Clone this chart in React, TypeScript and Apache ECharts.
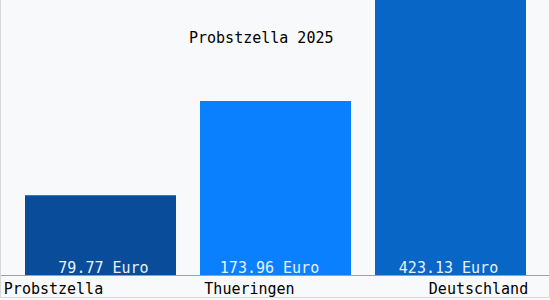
import React, { useEffect, useRef } from "react";
import * as echarts from "echarts";

const categories = ["Probstzella", "Thueringen", "Deutschland"];
const values = [79.77, 173.96, 423.13];
const barColors = ["#084c9a", "#0a80ff", "#0866c6"];
const labelShifts = [3, -6, -2];
const titleText = "Probstzella 2025";
const unit = "Euro";

const FONT = "'DejaVu Sans Mono', 'Liberation Mono', monospace";

export default function App() {
  const ref = useRef<HTMLDivElement>(null);
  useEffect(() => {
    if (!ref.current) return;
    const chart = echarts.init(ref.current, undefined, { renderer: "svg" });
    chart.setOption({
      animation: false,
      backgroundColor: "#f8f9fa",
      title: {
        text: titleText,
        left: 189,
        top: 30,
        padding: 0,
        textStyle: { fontFamily: FONT, fontSize: 15, fontWeight: "normal", color: "#000" },
      },
      grid: { left: 13, right: 12, top: 0, bottom: 25 },
      xAxis: {
        type: "category",
        data: categories,
        axisLine: { show: false },
        axisTick: { show: false },
        axisLabel: {
          margin: 6,
          interval: 0,
          formatter: (v: string, i: number) => `{s${i}|${v}}`,
          rich: {
            s0: { fontFamily: FONT, fontSize: 15, color: "#000", padding: [0, 94, 0, 0] },
            s1: { fontFamily: FONT, fontSize: 15, color: "#000", padding: [0, 52, 0, 0] },
            s2: { fontFamily: FONT, fontSize: 15, color: "#000", padding: [0, 0, 0, 56] },
          },
        },
      },
      yAxis: { type: "value", min: 0, max: 275, show: false },
      series: [
        {
          type: "bar",
          barWidth: 151,
          data: values.map((v, i) => ({
            value: v,
            itemStyle: { color: barColors[i] },
            label: { offset: [labelShifts[i], 0] },
          })),
          label: {
            show: true,
            position: "insideBottom",
            distance: 0,
            formatter: (p: any) => `${p.value.toFixed(2)} ${unit}`,
            fontFamily: FONT,
            fontSize: 15,
            color: "#e6f2ff",
          },
        },
      ],
      graphic: [
        {
          type: "line",
          shape: { x1: 0, y1: 275.5, x2: 550, y2: 275.5 },
          style: { stroke: "#a0a0a0", lineWidth: 1 },
          z: 10,
        },
        {
          type: "rect",
          shape: { x: 0.5, y: -1, width: 549, height: 298.5 },
          style: { fill: "none", stroke: "#d8d8d8", lineWidth: 1 },
          z: 10,
        },
      ],
    });
    return () => chart.dispose();
  }, []);
  return (
    <div
      ref={ref}
      style={{ position: "fixed", left: 0, top: 0, width: 550, height: 300 }}
    />
  );
}
